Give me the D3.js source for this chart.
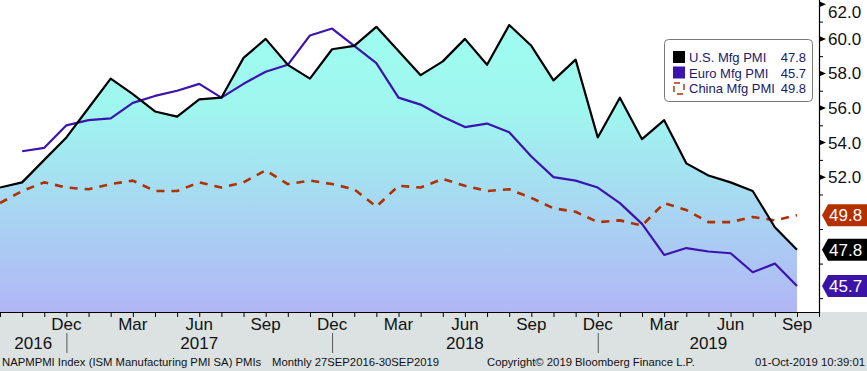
<!DOCTYPE html>
<html>
<head>
<meta charset="utf-8">
<script src="https://cdn.jsdelivr.net/npm/d3@7"></script>
<style>
  html, body { margin: 0; padding: 0; background: #fff; }
  svg { display: block; font-family: "Liberation Sans", Arial, sans-serif; }
</style>
</head>
<body>
<svg id="chart"></svg>
<script>
// monthly observations, Sep 2016 .. Sep 2019
const months = [
    "2016-09", "2016-10", "2016-11", "2016-12",
    "2017-01", "2017-02", "2017-03", "2017-04", "2017-05", "2017-06",
    "2017-07", "2017-08", "2017-09", "2017-10", "2017-11", "2017-12",
    "2018-01", "2018-02", "2018-03", "2018-04", "2018-05", "2018-06",
    "2018-07", "2018-08", "2018-09", "2018-10", "2018-11", "2018-12",
    "2019-01", "2019-02", "2019-03", "2019-04", "2019-05", "2019-06",
    "2019-07", "2019-08", "2019-09"
];
const usPmi = [
    51.4, 51.7, 53.0, 54.3,
    56.0, 57.7, 56.8, 55.8, 55.5, 56.5, 56.6, 58.9, 60.0, 58.5, 57.7, 59.4,
    59.6, 60.7, 59.3, 57.9, 58.7, 60.0, 58.5, 60.8, 59.6, 57.6, 58.8, 54.3,
    56.6, 54.2, 55.3, 52.8, 52.1, 51.7, 51.2, 49.1, 47.8
];
const euroPmi = [
    null, 53.5, 53.7, 55.0,
    55.3, 55.4, 56.3, 56.7, 57.0, 57.4, 56.6, 57.4, 58.1, 58.5, 60.2, 60.6,
    59.6, 58.6, 56.6, 56.2, 55.5, 54.9, 55.1, 54.6, 53.2, 52.0, 51.8, 51.4,
    50.5, 49.3, 47.5, 47.9, 47.7, 47.6, 46.5, 47.0, 45.7
];
const chinaPmi = [
    50.5, 51.2, 51.7, 51.4,
    51.3, 51.6, 51.8, 51.2, 51.2, 51.7, 51.4, 51.7, 52.4, 51.6, 51.8, 51.6,
    51.3, 50.3, 51.5, 51.4, 51.9, 51.5, 51.2, 51.3, 50.8, 50.2, 50.0, 49.4,
    49.5, 49.2, 50.5, 50.1, 49.4, 49.4, 49.7, 49.5, 49.8
];
const monthTicks = [
    ["2016-12", "Dec"], ["2017-03", "Mar"], ["2017-06", "Jun"], ["2017-09", "Sep"],
    ["2017-12", "Dec"], ["2018-03", "Mar"], ["2018-06", "Jun"], ["2018-09", "Sep"],
    ["2018-12", "Dec"], ["2019-03", "Mar"], ["2019-06", "Jun"], ["2019-09", "Sep"]
];
const yearLabels = ["2016", "2017", "2018", "2019"];
const yearBreaks = ["2016-12", "2017-12", "2018-12"];
const majorTicks = [52, 54, 56, 58, 60, 62];
const minorTicks = [45, 47, 49, 51, 53, 55, 57, 59, 61];

const series = [
    { name: "U.S. Mfg PMI", values: usPmi, color: "#000000", tag: "#000000" },
    { name: "Euro Mfg PMI", values: euroPmi, color: "#3a14ac", tag: "#3a14a6" },
    { name: "China Mfg PMI", values: chinaPmi, color: "#b03000", tag: "#b53000", dashed: true }
];

const width = 867;
const height = 371;
const plotRight = 819;
const plotBottom = 312;

const svg = d3.select("#chart")
    .attr("width", width)
    .attr("height", height);

const x = d3.scalePoint()
    .domain(months)
    .range([0, 797]);

const y = d3.scaleLinear()
    .domain([44.2, 62.25])
    .range([plotBottom, 0]);

// background gradient under the US line
const grad = svg.append("defs")
    .append("linearGradient")
    .attr("id", "fillGrad")
    .attr("gradientUnits", "userSpaceOnUse")
    .attr("x1", 0).attr("x2", 0)
    .attr("y1", 0).attr("y2", plotBottom);
grad.append("stop").attr("offset", "0%").attr("stop-color", "#9ffff0");
grad.append("stop").attr("offset", "35%").attr("stop-color", "#9ff6ef");
grad.append("stop").attr("offset", "100%").attr("stop-color", "#b1b6f5");

// bottom grey band
svg.append("rect")
    .attr("x", 0).attr("y", plotBottom)
    .attr("width", width).attr("height", height - plotBottom)
    .attr("fill", "#dce2e2");

const area = d3.area()
    .x((d, i) => x(months[i]))
    .y0(plotBottom)
    .y1(d => y(d));

svg.append("path")
    .datum(usPmi)
    .attr("d", area)
    .attr("fill", "url(#fillGrad)");

const line = d3.line()
    .defined(d => d != null)
    .x((d, i) => x(months[i]))
    .y(d => y(d));

// draw China first so the solid lines sit on top
[series[2], series[1], series[0]].forEach(s => {
    svg.append("path")
        .datum(s.values)
        .attr("d", line)
        .attr("fill", "none")
        .attr("stroke", s.color)
        .attr("stroke-width", s.dashed ? 2.6 : 2.2)
        .attr("stroke-dasharray", s.dashed ? "8,7" : null)
        .attr("stroke-linejoin", "round");
});

// x axis line and monthly ticks
svg.append("line")
    .attr("x1", 0).attr("x2", plotRight)
    .attr("y1", plotBottom + 0.5).attr("y2", plotBottom + 0.5)
    .attr("stroke", "#000").attr("stroke-width", 1.2);

svg.append("g")
    .selectAll("line")
    .data(months)
    .join("line")
    .attr("x1", d => x(d) + 0.5).attr("x2", d => x(d) + 0.5)
    .attr("y1", plotBottom).attr("y2", plotBottom + 5)
    .attr("stroke", "#000");

svg.append("line")
    .attr("x1", plotRight + 0.5).attr("x2", plotRight + 0.5)
    .attr("y1", plotBottom + 5).attr("y2", plotBottom)
    .attr("stroke", "#000");

svg.append("g")
    .selectAll("text")
    .data(monthTicks)
    .join("text")
    .attr("x", d => x(d[0]))
    .attr("y", 330)
    .attr("text-anchor", "middle")
    .attr("font-size", "17px")
    .attr("fill", "#111")
    .text(d => d[1]);

// year separators and labels
svg.append("g")
    .selectAll("line")
    .data(yearBreaks)
    .join("line")
    .attr("x1", d => x(d) + 0.5).attr("x2", d => x(d) + 0.5)
    .attr("y1", 333).attr("y2", 353)
    .attr("stroke", "#555");

const yearEdges = [0, ...yearBreaks.map(d => x(d)), plotRight];
svg.append("g")
    .selectAll("text")
    .data(yearLabels)
    .join("text")
    .attr("x", (d, i) => (yearEdges[i] + yearEdges[i + 1]) / 2)
    .attr("y", 349)
    .attr("text-anchor", "middle")
    .attr("font-size", "17px")
    .attr("fill", "#111")
    .text(d => d);

// right axis
svg.append("line")
    .attr("x1", plotRight + 0.5).attr("x2", plotRight + 0.5)
    .attr("y1", 0).attr("y2", plotBottom + 1)
    .attr("stroke", "#000").attr("stroke-width", 1.2);

svg.append("g")
    .selectAll("line")
    .data(minorTicks)
    .join("line")
    .attr("x1", plotRight).attr("x2", plotRight + 4)
    .attr("y1", d => y(d) + 0.5).attr("y2", d => y(d) + 0.5)
    .attr("stroke", "#000");

svg.append("g")
    .selectAll("path")
    .data(majorTicks)
    .join("path")
    .attr("d", d => `M${plotRight},${y(d) - 3}L${plotRight + 7},${y(d)}L${plotRight},${y(d) + 3}Z`)
    .attr("fill", "#000");

svg.append("g")
    .selectAll("text")
    .data(majorTicks)
    .join("text")
    .attr("x", 828)
    .attr("y", d => Math.max(y(d) + 6, 18))
    .attr("font-size", "17px")
    .attr("fill", "#111")
    .text(d => d.toFixed(1));

// last value tags
series.forEach(s => {
    const last = s.values[s.values.length - 1];
    const cy = y(last);
    svg.append("path")
        .attr("d", `M822,${cy}L828,${cy - 11}L867,${cy - 11}L867,${cy + 11}L828,${cy + 11}Z`)
        .attr("fill", s.tag);
    svg.append("text")
        .attr("x", 829)
        .attr("y", cy + 6)
        .attr("font-size", "17px")
        .attr("fill", "#fff")
        .text(last.toFixed(1));
});

// legend
const legend = svg.append("g").attr("transform", "translate(664,39)");
legend.append("rect")
    .attr("x", 0.5).attr("y", 0.5)
    .attr("width", 148).attr("height", 62)
    .attr("rx", 4)
    .attr("fill", "#fff")
    .attr("stroke", "#777");

series.forEach((s, i) => {
    const row = legend.append("g").attr("transform", `translate(0,${12 + i * 15.5})`);
    if (s.dashed) {
        row.append("rect")
            .attr("x", 10).attr("y", 1)
            .attr("width", 10).attr("height", 11)
            .attr("fill", "none")
            .attr("stroke", s.color)
            .attr("stroke-width", 1.4)
            .attr("stroke-dasharray", "6,5");
    } else {
        row.append("rect")
            .attr("x", 9).attr("y", 0)
            .attr("width", 12).attr("height", 12)
            .attr("fill", s.color);
    }
    row.append("text")
        .attr("x", 25).attr("y", 11)
        .attr("font-size", "13px")
        .attr("fill", "#1a1a6a")
        .text(s.name);
    row.append("text")
        .attr("x", 142).attr("y", 11)
        .attr("text-anchor", "end")
        .attr("font-size", "13px")
        .attr("fill", "#1a1a6a")
        .text(s.values[s.values.length - 1].toFixed(1));
});

// footer
const footer = svg.append("g")
    .attr("font-size", "11.3px")
    .attr("fill", "#111");
footer.append("text").attr("x", 2).attr("y", 366)
    .text("NAPMPMI Index (ISM Manufacturing PMI SA) PMIs");
footer.append("text").attr("x", 272).attr("y", 366)
    .text("Monthly 27SEP2016-30SEP2019");
footer.append("text").attr("x", 487).attr("y", 366)
    .text("Copyright\u00a9 2019 Bloomberg Finance L.P.");
footer.append("text").attr("x", 865).attr("y", 366)
    .attr("text-anchor", "end")
    .text("01-Oct-2019 10:39:01");
</script>
</body>
</html>
